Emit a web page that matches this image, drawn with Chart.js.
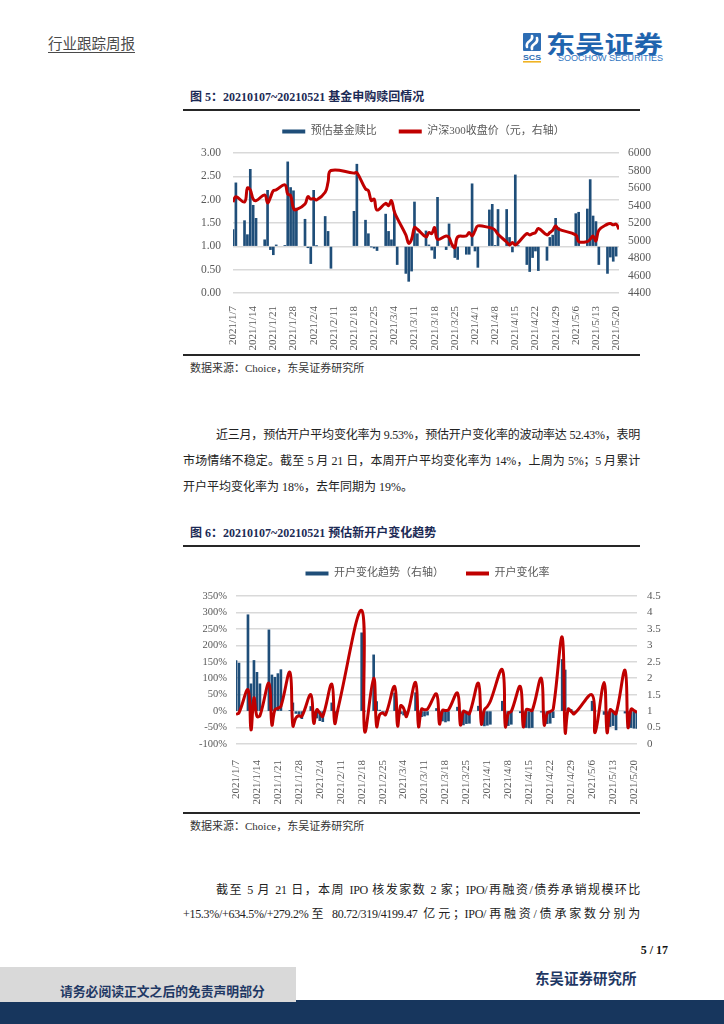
<!DOCTYPE html>
<html lang="zh-CN">
<head>
<meta charset="utf-8">
<title>行业跟踪周报</title>
<script src="https://cdn.jsdelivr.net/npm/chart.js@4.4.1/dist/chart.umd.min.js"></script>
<style>
  html, body { margin: 0; padding: 0; background: #fff; }
  body { width: 724px; height: 1024px; position: relative; overflow: hidden;
         font-family: 'Liberation Serif', 'Noto Sans CJK SC', serif; color: #262626; }
  .abs { position: absolute; white-space: nowrap; }
  .title { font-size: 12px; line-height: 16px; font-weight: bold; color: #1c2a55; left: 190px; }
  .rule { position: absolute; left: 183px; width: 457px; height: 2px; background: #262626; }
  .src { font-size: 11px; line-height: 14px; color: #333; left: 190px; }
  .ln { position: absolute; font-size: 12px; line-height: 18px; color: #222;
        text-align: justify; text-align-last: justify; letter-spacing: -0.3px; }
  canvas { position: absolute; }
</style>
</head>
<body>

<div class="abs" style="left:48px;top:35px;font-size:14.5px;line-height:18px;color:#4a4a4a;text-decoration:underline;text-underline-offset:3px">行业跟踪周报</div>

<svg class="abs" style="left:520px;top:30px" width="148" height="36" viewBox="0 0 148 36">
  <rect x="3" y="3" width="18" height="18" rx="1" fill="#2d6db4"/>
  <path d="M7 17 C 5 10, 14 12, 12 6 M12 19 C 10 13, 19 15, 17 8" stroke="#fff" stroke-width="2.6" fill="none" stroke-linecap="round"/>
  <text x="3" y="29.5" font-size="7" font-weight="bold" fill="#2d6db4" textLength="18" lengthAdjust="spacingAndGlyphs" font-family="Liberation Sans">SCS</text>
  <rect x="3" y="31" width="18" height="1.6" fill="#f0b323"/>
  <text x="26" y="23" font-size="24" font-weight="bold" fill="#1f64ae" textLength="117" lengthAdjust="spacingAndGlyphs" font-family="Noto Sans CJK SC">东吴证券</text>
  <text x="38" y="31" font-size="9.5" fill="#2f74c0" textLength="105" lengthAdjust="spacingAndGlyphs" font-family="Liberation Sans Narrow, Liberation Sans">SOOCHOW SECURITIES</text>
</svg>

<div class="abs title" style="top:89px">图 5：20210107~20210521 基金申购赎回情况</div>
<div class="rule" style="top:109px"></div>
<canvas id="chart5" width="481" height="250" style="left:183px;top:104px"></canvas>
<div class="rule" style="top:354px"></div>
<div class="abs src" style="top:361px">数据来源：Choice，东吴证券研究所</div>

<div class="ln" style="left:216px;top:426px;width:424px">近三月，预估开户平均变化率为 9.53%，预估开户变化率的波动率达 52.43%，表明</div>
<div class="ln" style="left:183px;top:452px;width:457px">市场情绪不稳定。截至 5 月 21 日，本周开户平均变化率为 14%，上周为 5%；5 月累计</div>
<div class="abs" style="left:183px;top:478px;font-size:12px;line-height:18px;color:#222">开户平均变化率为 18%，去年同期为 19%。</div>

<div class="abs title" style="top:525px">图 6：20210107~20210521 预估新开户变化趋势</div>
<div class="rule" style="top:545px"></div>
<canvas id="chart6" width="489" height="262" style="left:183px;top:546px"></canvas>
<div class="rule" style="top:812px"></div>
<div class="abs src" style="top:819px">数据来源：Choice，东吴证券研究所</div>

<div class="ln" style="left:216px;top:881px;width:424px">截至 5 月 21 日，本周 IPO 核发家数 2 家；IPO/再融资/债券承销规模环比</div>
<div class="ln" style="left:183px;top:905px;width:457px">+15.3%/+634.5%/+279.2%至 80.72/319/4199.47 亿元；IPO/再融资/债承家数分别为</div>

<div class="abs" style="right:56px;top:942px;font-size:12px;line-height:16px;font-weight:bold;color:#111">5 / 17</div>
<div class="abs" style="left:535px;top:970px;font-size:14.5px;line-height:18px;font-weight:bold;color:#1f3864">东吴证券研究所</div>

<div class="abs" style="left:0;top:1000px;width:724px;height:24px;background:#17365d"></div>
<div class="abs" style="left:0;top:967px;width:296px;height:35px;background:#d9d9d9"></div>
<div class="abs" style="left:60px;top:983px;font-size:12.8px;line-height:18px;font-weight:bold;color:#1f3864">请务必阅读正文之后的免责声明部分</div>

<script>
Chart.defaults.font.family = "'Liberation Serif', 'Noto Sans CJK SC', serif";
Chart.defaults.color = '#595959';

// trading days shown on both charts (axis runs by calendar day)
const tradeDays = [
  '2021/1/7', '2021/1/8', '2021/1/11', '2021/1/12', '2021/1/13', '2021/1/14', '2021/1/15', '2021/1/18', '2021/1/19',
  '2021/1/20', '2021/1/21', '2021/1/22', '2021/1/25', '2021/1/26', '2021/1/27', '2021/1/28', '2021/1/29',
  '2021/2/1', '2021/2/2', '2021/2/3', '2021/2/4', '2021/2/5', '2021/2/8', '2021/2/9', '2021/2/10', '2021/2/18',
  '2021/2/19', '2021/2/22', '2021/2/23', '2021/2/24', '2021/2/25', '2021/2/26',
  '2021/3/1', '2021/3/2', '2021/3/3', '2021/3/4', '2021/3/5', '2021/3/8', '2021/3/9', '2021/3/10', '2021/3/11',
  '2021/3/12', '2021/3/15', '2021/3/16', '2021/3/17', '2021/3/18', '2021/3/19', '2021/3/22', '2021/3/23',
  '2021/3/24', '2021/3/25', '2021/3/26', '2021/3/29', '2021/3/30', '2021/3/31',
  '2021/4/1', '2021/4/2', '2021/4/6', '2021/4/7', '2021/4/8', '2021/4/9', '2021/4/12', '2021/4/13', '2021/4/14',
  '2021/4/15', '2021/4/16', '2021/4/19', '2021/4/20', '2021/4/21', '2021/4/22', '2021/4/23', '2021/4/26',
  '2021/4/27', '2021/4/28', '2021/4/29', '2021/4/30',
  '2021/5/6', '2021/5/7', '2021/5/10', '2021/5/11', '2021/5/12', '2021/5/13', '2021/5/14', '2021/5/17',
  '2021/5/18', '2021/5/19', '2021/5/20', '2021/5/21'
];
const tickLabels = ['2021/1/7', '2021/1/14', '2021/1/21', '2021/1/28', '2021/2/4', '2021/2/11', '2021/2/18',
  '2021/2/25', '2021/3/4', '2021/3/11', '2021/3/18', '2021/3/25', '2021/4/1', '2021/4/8', '2021/4/15',
  '2021/4/22', '2021/4/29', '2021/5/6', '2021/5/13', '2021/5/20'];

// 图5 预估基金赎比 (left axis)
const fundRedeemRatio = [
  1.36, 2.36, 1.55, 1.25, 2.65, 1.88, 1.60, 1.14, 2.20, 0.93, 0.82, 1.03, 1.02, 2.81, 2.26, 2.19, 1.82,
  1.58, 0.97, 0.63, 2.20, 1.01, 1.64, 1.32, 0.53, 1.75, 2.76, 1.56, 1.27, 0.99, 0.96, 0.91,
  1.69, 1.32, 1.14, 1.76, 0.61, 0.42, 0.25, 0.47, 1.95, 1.27, 1.33, 1.03, 0.92, 0.74, 2.05, 0.93, 1.48, 0.99, 0.76, 0.72, 0.83, 0.83, 2.34,
  0.90, 0.55, 1.78, 1.90, 1.02, 1.79, 1.79, 1.19, 0.88, 2.53, 1.01, 0.61, 0.46, 0.76, 0.90, 0.48, 0.70, 1.19, 1.24, 1.60, 1.40,
  1.70, 1.73, 1.80, 2.43, 1.65, 1.53, 0.61, 0.42, 0.77, 0.68, 0.79, null
];
// 图5 沪深300收盘价 (right axis)
const hs300Close = [
  5440, 5500, 5440, 5600, 5578, 5474, 5455, 5520, 5430, 5494, 5570, 5578, 5635, 5532, 5515, 5367, 5352,
  5417, 5501, 5474, 5480, 5463, 5551, 5666, 5800, 5770, 5775, 5590, 5570, 5455, 5474, 5348,
  5424, 5398, 5455, 5330, 5255, 5064, 4968, 5014, 5148, 5129, 5041, 5091, 5079, 5148, 5014, 5052, 5033, 4956, 4918, 5041, 5052, 5091, 5052,
  5110, 5167, 5148, 5140, 5117, 5071, 4983, 4949, 4976, 4949, 4976, 5079, 5064, 5079, 5091, 5137, 5064, 5091, 5117, 5167, 5129,
  5064, 4987, 4987, 5014, 5052, 4995, 5117, 5187, 5194, 5179, 5187, 5129
];

// 图6 开户变化趋势 (right axis)
const openTrend = [
  2.54, 2.46, 3.93, 1.83, 2.54, 2.18, 1.83, 3.47, 2.10, 2.03, 2.14, 2.26, 1.02, 1.25, 0.93, 0.90, 0.77,
  1.14, 0.90, 0.79, 0.71, 0.68, 1.25, 0.85, 1.00, 3.38, 1.00, 2.71, 1.29, 1.03, 0.98, 0.97,
  1.55, 1.00, 0.92, 0.88, 0.84, 1.56, 1.00, 0.83, 0.85, 0.88, 1.08, 0.68, 0.70, 0.67, 0.70, 1.12, 0.60, 0.58, 0.62, 0.63, 1.15, 0.58, 0.55,
  0.57, 0.60, 1.30, 0.58, 0.56, 0.60, 0.95, 0.50, 0.50, 0.49, 0.50, 0.97, 0.60, 0.62, 0.63, 0.80, 2.57, 2.25, 1.09, 1.05, 0.95,
  1.30, 1.00, 0.90, 0.55, 0.53, 0.56, 0.43, 0.94, 0.50, 0.50, 0.48, 0.47
];
// 图6 开户变化率, % (left axis)
const openChangeRate = [
  -10, -5, 65, -57, 40, -16, -14, 85, -42, 4, 9, 14, 118, -45, -21, -14, -16,
  50, -37, 4, -6, -16, 82, -37, 4, 306, -62, 100, -47, -11, -6, -11,
  75, -45, 16, 9, -16, 87, -47, 6, 4, 6, 52, -39, 2, 2, 4, 55, -42, -1, -4, -8, 85, -39, 4,
  14, 30, 126, -47, -6, -1, 75, -47, 4, 4, 2, 100, -42, -6, -1, 6, 225, -65, 6, -1, -8,
  49, -65, 87, -65, 4, -1, -8, 124, -49, 6, 2, -4
];

// day number counted from 2021/1/7
const t0 = Date.UTC(2021, 0, 7);
function dayNo(s) {
  const [y, m, d] = s.split('/').map(Number);
  return (Date.UTC(y, m - 1, d) - t0) / 86400000;
}
const xs = tradeDays.map(dayNo);
const tickPos = tickLabels.map(dayNo);
const lastDay = dayNo('2021/5/21');
const pts = (arr) => arr.map((v, i) => ({ x: xs[i], y: v }));

// extra room between legend and plot
const legendGap = (px) => ({
  id: 'legendGap',
  beforeInit(chart) {
    const fit = chart.legend.fit;
    chart.legend.fit = function () {
      fit.bind(chart.legend)();
      this.height += px;
    };
  }
});

const legendOpts = {
  labels: {
    boxWidth: 23,
    boxHeight: 4,
    padding: 22,
    color: '#595959',
    font: { size: 11 },
    sort: (a, b) => a.datasetIndex - b.datasetIndex,
    generateLabels: (chart) => Chart.defaults.plugins.legend.labels.generateLabels(chart)
      .map((l) => Object.assign(l, { lineWidth: 0 }))
  }
};

function xAxis(h, pad) {
  return {
    type: 'linear',
    min: 0,
    max: lastDay,
    offset: false,
    grid: { display: false },
    border: { display: false },
    afterBuildTicks: (axis) => { axis.ticks = tickPos.map((v) => ({ value: v })); },
    afterFit: (axis) => { axis.height = h; },
    ticks: {
      autoSkip: false,
      minRotation: 90,
      maxRotation: 90,
      padding: pad,
      font: { size: 11 },
      callback: (v, i) => tickLabels[i]
    }
  };
}

// 图5
const config5 = {
  type: 'bar',
  data: {
    datasets: [{
      label: '预估基金赎比',
      data: pts(fundRedeemRatio),
      backgroundColor: '#1f4e79',
      base: 1,
      barThickness: 2,
      yAxisID: 'y',
      order: 1
    }, {
      type: 'line',
      label: '沪深300收盘价（元，右轴）',
      data: pts(hs300Close),
      borderColor: '#c00000',
      backgroundColor: '#c00000',
      borderWidth: 3,
      pointRadius: 0,
      tension: 0.4,
      borderJoinStyle: 'round',
      yAxisID: 'y1',
      order: 0
    }]
  },
  options: {
    responsive: false,
    animation: false,
    devicePixelRatio: 1,
    layout: { padding: 0 },
    plugins: { legend: legendOpts, tooltip: { enabled: false } },
    scales: {
      x: xAxis(61, 5),
      y: {
        position: 'left',
        min: 0,
        max: 3,
        grid: { color: '#d9d9d9', lineWidth: 1.5, drawTicks: false },
        border: { display: false },
        afterFit: (axis) => { axis.width = 50; },
        ticks: { stepSize: 0.5, padding: 12, font: { size: 11.5 }, callback: (v) => v.toFixed(2) }
      },
      y1: {
        position: 'right',
        min: 4400,
        max: 6000,
        grid: { drawOnChartArea: false, drawTicks: false },
        border: { display: false },
        afterFit: (axis) => { axis.width = 45; },
        ticks: { stepSize: 200, padding: 9, font: { size: 11.5 }, callback: (v) => String(v) }
      }
    }
  },
  plugins: [legendGap(6)]
};

// 图6
const config6 = {
  type: 'bar',
  data: {
    datasets: [{
      label: '开户变化趋势（右轴）',
      data: pts(openTrend),
      backgroundColor: '#1f4e79',
      base: 1,
      barThickness: 2,
      yAxisID: 'y1',
      order: 1
    }, {
      type: 'line',
      label: '开户变化率',
      data: pts(openChangeRate),
      borderColor: '#c00000',
      backgroundColor: '#c00000',
      borderWidth: 3,
      pointRadius: 0,
      tension: 0.4,
      borderJoinStyle: 'round',
      yAxisID: 'y',
      order: 0
    }]
  },
  options: {
    responsive: false,
    animation: false,
    devicePixelRatio: 1,
    layout: { padding: 0 },
    plugins: { legend: legendOpts, tooltip: { enabled: false } },
    scales: {
      x: xAxis(64, 8),
      y: {
        position: 'left',
        min: -100,
        max: 350,
        grid: { color: '#d9d9d9', lineWidth: 1.5, drawTicks: false },
        border: { display: false },
        afterFit: (axis) => { axis.width = 53; },
        ticks: { stepSize: 50, padding: 9, font: { size: 10.5 }, callback: (v) => v + '%' }
      },
      y1: {
        position: 'right',
        min: 0,
        max: 4.5,
        grid: { drawOnChartArea: false, drawTicks: false },
        border: { display: false },
        afterFit: (axis) => { axis.width = 35; },
        ticks: { stepSize: 0.5, padding: 10, font: { size: 11 }, callback: (v) => String(v) }
      }
    }
  },
  plugins: [legendGap(7)]
};

const chart5 = new Chart(document.getElementById('chart5'), config5);
const chart6 = new Chart(document.getElementById('chart6'), config6);
</script>
</body>
</html>
